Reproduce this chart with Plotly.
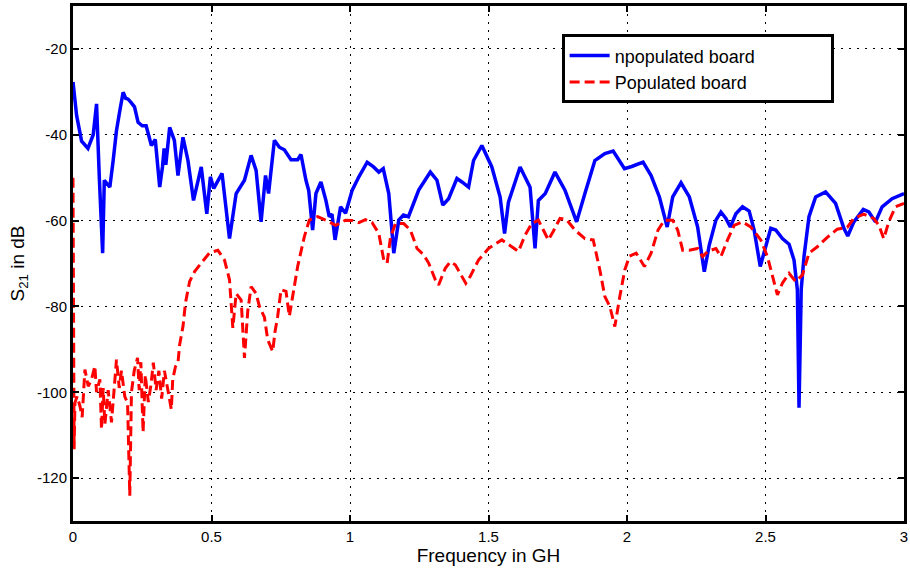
import plotly.graph_objects as go

# ---- data (frequency in GHz, S21 in dB) ----
blue_f = [0, 0.013, 0.031, 0.054, 0.073, 0.085, 0.095, 0.107, 0.113, 0.124, 0.133, 0.145,
          0.157, 0.169, 0.181, 0.19, 0.199, 0.21, 0.222, 0.235, 0.25, 0.264, 0.283, 0.297,
          0.313, 0.323, 0.329, 0.335, 0.349, 0.366, 0.379, 0.397, 0.415, 0.435, 0.463,
          0.483, 0.496, 0.508, 0.538, 0.565, 0.589, 0.619, 0.643, 0.661, 0.679, 0.695,
          0.706, 0.727, 0.745, 0.763, 0.787, 0.811, 0.823, 0.841, 0.851, 0.865, 0.877,
          0.895, 0.913, 0.925, 0.935, 0.946, 0.966, 0.984, 1.008, 1.032, 1.062, 1.085,
          1.104, 1.120, 1.140, 1.158, 1.176, 1.193, 1.211, 1.248, 1.290, 1.314, 1.335,
          1.356, 1.386, 1.404, 1.428, 1.446, 1.476, 1.512, 1.542, 1.558, 1.572, 1.614,
          1.650, 1.668, 1.680, 1.705, 1.740, 1.776, 1.818, 1.848, 1.884, 1.920, 1.950,
          1.991, 2.017, 2.058, 2.087, 2.117, 2.145, 2.165, 2.195, 2.225, 2.255, 2.279,
          2.297, 2.321, 2.339, 2.357, 2.373, 2.393, 2.417, 2.441, 2.459, 2.481, 2.501,
          2.519, 2.537, 2.561, 2.585, 2.603, 2.615, 2.621, 2.629, 2.639, 2.657, 2.681,
          2.717, 2.753, 2.783, 2.797, 2.819, 2.853, 2.873, 2.897, 2.921, 2.957, 3.0]
blue_db = [-27.7, -35.5, -41.5, -43.2, -40.0, -32.8, -50.0, -67.6, -50.6, -51.5, -52.2, -46.0,
           -39.0, -34.4, -30.1, -31.5, -31.7, -32.5, -33.5, -37.1, -37.9, -37.9, -42.5, -41.1,
           -52.2, -47.5, -43.2, -47.0, -38.3, -41.3, -49.5, -40.6, -46.0, -55.3, -47.5,
           -58.4, -49.8, -52.5, -49.0, -64.2, -53.7, -50.6, -44.8, -48.3, -60.3, -49.5,
           -53.7, -41.3, -42.9, -43.5, -45.8, -45.8, -44.6, -50.6, -53.0, -62.2, -53.7,
           -51.0, -55.3, -59.1, -58.5, -64.5, -56.8, -58.3, -52.9, -49.8, -46.4, -47.5,
           -48.7, -47.9, -53.7, -67.6, -59.9, -58.7, -59.1, -52.9, -48.7, -50.6, -56.4,
           -54.9, -50.2, -51.0, -52.2, -46.0, -42.5, -47.5, -54.5, -63.0, -55.7, -47.5,
           -52.2, -66.5, -55.3, -53.7, -48.7, -52.9, -60.3, -53.7, -46.0, -44.4, -43.8,
           -47.9, -47.4, -46.4, -49.5, -54.5, -61.5, -54.5, -51.2, -54.5, -61.5, -71.9,
           -65.7, -59.9, -58.0, -59.5, -61.5, -58.4, -56.8, -57.8, -62.2, -70.7, -66.1,
           -61.8, -62.2, -64.2, -65.5, -69.2, -76.1, -103.6, -76.0, -68.4, -59.1, -54.5,
           -53.3, -56.0, -61.8, -63.6, -60.3, -57.4, -58.0, -60.3, -56.8, -54.9, -53.7]

red_f = [0, 0.002, 0.004, 0.007, 0.015, 0.025, 0.033, 0.043, 0.055, 0.067, 0.079, 0.085,
         0.097, 0.103, 0.109, 0.115, 0.127, 0.139, 0.157, 0.167, 0.175, 0.187, 0.197, 0.205,
         0.211, 0.221, 0.233, 0.239, 0.245, 0.253, 0.261, 0.272, 0.282, 0.290, 0.300, 0.310,
         0.320, 0.330, 0.355, 0.360, 0.370, 0.379, 0.385, 0.397, 0.406, 0.421, 0.439, 0.469,
         0.493, 0.523, 0.547, 0.565, 0.577, 0.589, 0.607, 0.619, 0.631, 0.643, 0.661, 0.673,
         0.691, 0.703, 0.721, 0.729, 0.739, 0.751, 0.769, 0.781, 0.793, 0.811, 0.835, 0.853,
         0.883, 0.913, 0.948, 0.984, 1.008, 1.032, 1.056, 1.080, 1.104, 1.122, 1.134, 1.146,
         1.164, 1.194, 1.218, 1.242, 1.266, 1.284, 1.308, 1.320, 1.344, 1.362, 1.380, 1.398,
         1.418, 1.434, 1.464, 1.500, 1.548, 1.584, 1.608, 1.632, 1.656, 1.680, 1.698, 1.716,
         1.734, 1.758, 1.782, 1.812, 1.848, 1.878, 1.902, 1.920, 1.938, 1.956, 1.974, 1.992,
         2.009, 2.033, 2.063, 2.087, 2.112, 2.135, 2.165, 2.183, 2.201, 2.225, 2.255, 2.273,
         2.291, 2.321, 2.339, 2.363, 2.387, 2.417, 2.447, 2.483, 2.507, 2.525, 2.543, 2.561,
         2.585, 2.609, 2.633, 2.657, 2.687, 2.723, 2.759, 2.795, 2.819, 2.855, 2.891, 2.909,
         2.927, 2.945, 2.969, 3.0]
red_db = [-50.0, -80.0, -113.3, -102.4, -101.0, -103.2, -105.8, -94.7, -98.6, -97.0, -93.9, -100.0,
          -97.0, -108.6, -99.0, -107.5, -99.5, -107.0, -92.4, -99.0, -95.0, -101.0, -102.5, -124.1,
          -100.0, -95.0, -92.0, -99.5, -93.0, -109.3, -96.0, -102.3, -98.0, -93.1, -99.5, -95.0,
          -101.5, -95.0, -104.0, -97.0, -94.0, -93.1, -88.9, -84.7, -79.2, -74.2, -71.9, -69.4,
          -67.5, -66.9, -69.2, -73.8, -85.0, -77.0, -78.5, -92.0, -81.0, -75.4, -77.0, -80.0,
          -82.5, -87.8, -90.5, -86.0, -82.3, -76.1, -76.5, -82.3, -77.7, -70.7, -63.8, -59.9,
          -59.1, -59.9, -61.1, -59.9, -60.0, -60.5, -59.8, -60.5, -63.0, -69.2, -69.9, -64.0,
          -60.7, -60.7, -62.2, -66.5, -68.0, -69.9, -73.8, -75.0, -71.1, -69.6, -70.3, -72.3,
          -74.6, -73.0, -69.2, -66.5, -64.5, -66.1, -67.2, -63.4, -60.7, -59.9, -62.2, -64.5,
          -62.5, -59.5, -59.8, -62.2, -64.2, -64.5, -71.5, -77.7, -80.0, -84.7, -77.7, -71.5,
          -68.3, -67.6, -70.7, -67.6, -62.2, -59.9, -59.9, -62.2, -66.9, -66.9, -66.5, -68.4,
          -67.2, -66.5, -68.4, -64.5, -61.1, -60.3, -61.5, -64.5, -68.4, -73.1, -77.3, -74.6,
          -72.3, -74.2, -72.7, -67.6, -66.1, -63.9, -62.0, -61.6, -59.5, -58.5, -59.5, -61.1,
          -64.2, -60.3, -56.8, -56.0]

x_ticks = [0, 0.5, 1, 1.5, 2, 2.5, 3]
x_tick_text = ["0", "0.5", "1", "1.5", "2", "2.5", "3"]
y_ticks = [-120, -100, -80, -60, -40, -20]
y_tick_text = ["-120", "-100", "-80", "-60", "-40", "-20"]

series_names = ["npopulated board", "Populated board"]

FONT = "Liberation Sans, Arial, sans-serif"
PAD = "\u00a0" * 14  # widens the legend box like the reference

fig = go.Figure()
fig.add_trace(go.Scatter(x=blue_f, y=blue_db, mode="lines", name=series_names[0] + PAD,
                         line=dict(color="#0000ff", width=3.5)))
fig.add_trace(go.Scatter(x=red_f, y=red_db, mode="lines", name=series_names[1] + PAD,
                         line=dict(color="#ff0000", width=3, dash="10px,5px")))

axis_common = dict(
    showline=True, linecolor="black", linewidth=3, mirror="allticks",
    ticks="inside", ticklen=6, tickwidth=2, tickcolor="black",
    showgrid=True, gridcolor="black", gridwidth=1, griddash="2px,6px",
    zeroline=False, tickfont=dict(family=FONT, size=15, color="black"),
)

fig.update_xaxes(range=[0, 3], tickvals=x_ticks, ticktext=x_tick_text,
                 title=dict(text="Frequency in GH", font=dict(family=FONT, size=19, color="black"),
                            standoff=4),
                 **axis_common)
fig.update_yaxes(range=[-130, -10], tickvals=y_ticks, ticktext=y_tick_text,
                 title=dict(text="S<sub>21</sub> in dB", font=dict(family=FONT, size=19, color="black"),
                            standoff=8),
                 **axis_common)

fig.update_layout(
    width=910, height=570,
    margin=dict(l=73, r=3, t=4, b=49),
    paper_bgcolor="white", plot_bgcolor="white",
    font=dict(family=FONT, color="black"),
    legend=dict(x=0.588, y=0.945, xanchor="left", yanchor="top",
                bgcolor="white", bordercolor="black", borderwidth=3,
                font=dict(family=FONT, size=18, color="black"),
                tracegroupgap=0, itemwidth=40),
)

fig.write_html("out.html")
